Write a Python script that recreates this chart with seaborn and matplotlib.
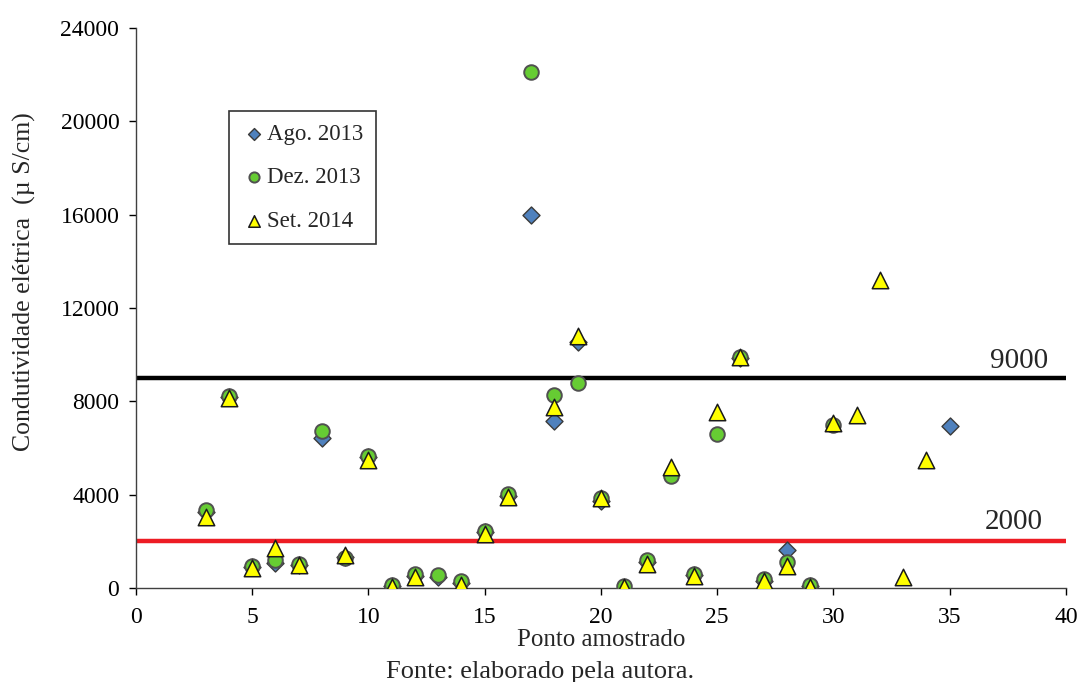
import matplotlib
matplotlib.use("Agg")
import matplotlib.pyplot as plt
import seaborn as sns
import pandas as pd

# ---- data ----
ago_x = [3, 4, 5, 6, 7, 8, 9, 10, 11, 12, 13, 14, 15, 16, 17, 18, 19, 20, 22, 24, 26, 27, 28, 29, 35]
ago_y = [3250, 8200, 900, 1070, 1000, 6450, 1350, 5600, 100, 500, 480, 200, 2400, 3950, 16000, 7150, 10550, 3750, 1100, 550, 9850, 300, 1650, 80, 6950]

dez_x = [3, 4, 5, 6, 7, 8, 9, 10, 11, 12, 13, 14, 15, 16, 17, 18, 19, 20, 21, 22, 23, 24, 25, 26, 27, 28, 29, 30]
dez_y = [3350, 8250, 950, 1200, 1050, 6750, 1300, 5650, 150, 600, 560, 280, 2450, 4050, 22100, 8280, 8800, 3850, 100, 1180, 4780, 600, 6580, 9900, 380, 1120, 120, 7000]

set_x = [3, 4, 5, 6, 7, 9, 10, 11, 12, 14, 15, 16, 18, 19, 20, 21, 22, 23, 24, 25, 26, 27, 28, 29, 30, 31, 32, 33, 34]
set_y = [3050, 8130, 860, 1720, 990, 1420, 5480, 60, 480, 150, 2330, 3880, 7750, 10780, 3850, 40, 1020, 5200, 500, 7560, 9880, 280, 960, 40, 7080, 7400, 13200, 480, 5480]

ref_values = [9000, 2000]
ref_labels = ["9000", "2000"]
series_names = ["Ago. 2013", "Dez. 2013", "Set. 2014"]

x_ticks = list(range(0, 41, 5))
y_ticks = list(range(0, 24001, 4000))

# ---- style ----
sns.set_style("ticks")
plt.rcParams["font.family"] = ["Liberation Serif", "DejaVu Serif"]

fig = plt.figure(figsize=(10.81, 6.82), dpi=100)
ax = fig.add_axes([0.1258, 0.1378, 0.8603, 0.8211])

df_ago = pd.DataFrame({"x": ago_x, "y": ago_y})
df_dez = pd.DataFrame({"x": dez_x, "y": dez_y})
df_set = pd.DataFrame({"x": set_x, "y": set_y})

# reference lines
ax.axhline(ref_values[0], color="black", lw=3.2, zorder=1)
ax.axhline(ref_values[1], color="#ED1C24", lw=3.2, zorder=1)

sns.scatterplot(data=df_ago, x="x", y="y", marker="D", s=75, color="#4F81BD",
                edgecolor="#3a3a3a", linewidth=1.0, ax=ax, label=series_names[0], zorder=3)
sns.scatterplot(data=df_dez, x="x", y="y", marker="o", s=110, color="#66CC33",
                edgecolor="#505050", linewidth=1.4, ax=ax, label=series_names[1], zorder=4)
sns.scatterplot(data=df_set, x="x", y="y", marker="^", s=140, color="#FFFF00",
                edgecolor="#1a1a1a", linewidth=1.1, ax=ax, label=series_names[2], zorder=5)

ax.set_xlim(0, 40)
ax.set_ylim(0, 24000)
ax.set_xticks(x_ticks)
ax.set_yticks(y_ticks)
ax.tick_params(axis="both", labelsize=17, direction="out", length=5, width=1, colors="black")
ax.tick_params(axis="x", pad=9)
ax.tick_params(axis="y", pad=7)
for s in ["top", "right"]:
    ax.spines[s].set_visible(False)
for s in ["left", "bottom"]:
    ax.spines[s].set_color("#404040")
    ax.spines[s].set_linewidth(1.0)

ax.set_xlabel("Ponto amostrado", fontsize=18)
ax.xaxis.set_label_coords(0.5, -0.074)
ax.set_ylabel("Condutividade elétrica  (µ S/cm)", fontsize=18.5)
ax.yaxis.set_label_coords(-0.108, 0.547)

# line labels
ax.text(39.23, ref_values[0] + 430, ref_labels[0], ha="right", va="baseline", fontsize=21)
ax.text(38.99, ref_values[1] + 515, ref_labels[1], ha="right", va="baseline", fontsize=21)

leg = ax.legend(loc="upper left", bbox_to_anchor=(0.100, 0.852), fontsize=16.5,
                frameon=True, fancybox=False, edgecolor="#333333", framealpha=1,
                markerscale=0.7, handletextpad=0.0, labelspacing=0.98,
                borderpad=0.55, handlelength=1.1, borderaxespad=0)
leg.get_frame().set_linewidth(1.2)

fig.text(0.5, 0.0059, "Fonte: elaborado pela autora.", ha="center", va="baseline", fontsize=19)

fig.savefig("out.png", dpi=100)
